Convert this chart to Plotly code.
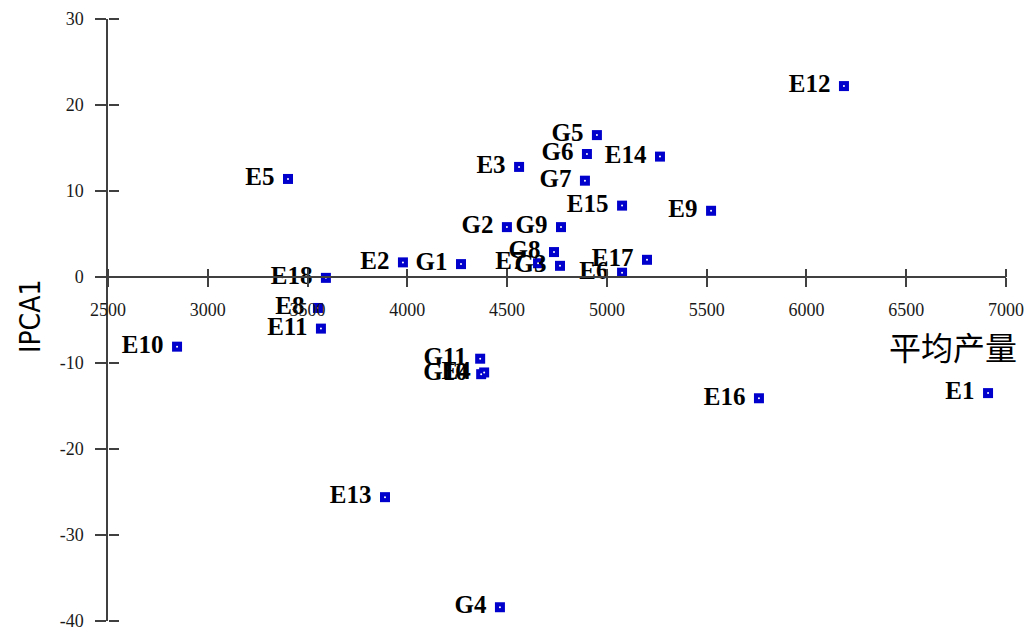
import plotly.graph_objects as go

names = ["E1", "E2", "E3", "E4", "E5", "E6", "E7", "E8", "E9", "E10", "E11", "E12",
         "E13", "E14", "E15", "E16", "E17", "E18",
         "G1", "G2", "G3", "G4", "G5", "G6", "G7", "G8", "G9", "G10", "G11"]
yield_mean = [6910, 3978, 4560, 4385, 3402, 5076, 4655, 3552, 5522, 2846, 3567, 6188,
              3888, 5266, 5076, 5762, 5201, 3592,
              4269, 4499, 4765, 4464, 4950, 4900, 4890, 4735, 4770, 4370, 4365]
ipca1 = [-13.5, 1.7, 12.8, -11.1, 11.4, 0.5, 1.6, -3.6, 7.7, -8.1, -6.0, 22.2,
         -25.6, 14.0, 8.3, -14.1, 2.0, -0.1,
         1.5, 5.8, 1.3, -38.4, 16.5, 14.3, 11.2, 2.9, 5.8, -11.3, -9.5]

x_ticks = [2500, 3000, 3500, 4000, 4500, 5000, 5500, 6000, 6500, 7000]
y_ticks = [-40, -30, -20, -10, 0, 10, 20, 30]
y_tick_labels = ["-40", "-30", "-20", "-10", "0", "10", "20", "30"]

AX = "#404040"
fig = go.Figure()
fig.add_trace(go.Scatter(
    x=yield_mean, y=ipca1, mode="markers+text", text=names,
    texttemplate="%{text}\u00a0",
    textposition="middle left",
    textfont=dict(family="Liberation Serif", size=25, color="black", weight="bold"),
    marker=dict(symbol="square", size=10, color="#0000CC", line=dict(width=0)),
    cliponaxis=False, showlegend=False))
fig.add_trace(go.Scatter(
    x=yield_mean, y=ipca1, mode="markers",
    marker=dict(symbol="circle", size=2, color="white", line=dict(width=0)),
    cliponaxis=False, showlegend=False, hoverinfo="skip"))
# helper trace so the opposite-side tick axes are drawn
fig.add_trace(go.Scatter(x=[2500], y=[-40], xaxis="x2", yaxis="y2", mode="markers",
                         marker=dict(opacity=0), showlegend=False, hoverinfo="skip"))

ypos = 40 / 70
fig.update_layout(
    width=1026, height=634,
    margin=dict(l=108, r=20, t=19, b=13, autoexpand=False),
    paper_bgcolor="white", plot_bgcolor="white",
    xaxis=dict(range=[2500, 7000], tickvals=x_ticks, showgrid=False, zeroline=False,
               automargin=False,
               showline=True, linecolor=AX, linewidth=1.5,
               ticks="outside", ticklen=9, tickcolor=AX, tickwidth=1.5,
               anchor="free", position=ypos, ticklabelstandoff=8,
               tickfont=dict(family="Liberation Serif", size=18, color="#1a1a1a")),
    yaxis=dict(range=[-40, 30], tickvals=y_ticks, ticktext=y_tick_labels,
               showgrid=False, zeroline=False, automargin=False,
               showline=True, linecolor=AX, linewidth=1.5,
               ticks="outside", ticklen=11, tickcolor=AX, tickwidth=1.5,
               ticklabelstandoff=8,
               tickfont=dict(family="Liberation Serif", size=18, color="#1a1a1a")),
    xaxis2=dict(range=[2500, 7000], tickvals=x_ticks, showgrid=False, zeroline=False,
                automargin=False,
                overlaying="x", side="top", anchor="free", position=ypos,
                ticks="outside", ticklen=8, tickcolor=AX, tickwidth=1.5,
                showticklabels=False, showline=False),
    yaxis2=dict(range=[-40, 30], tickvals=y_ticks, showgrid=False, zeroline=False,
                automargin=False,
                overlaying="y", side="right", anchor="free", position=0,
                ticks="outside", ticklen=10, tickcolor=AX, tickwidth=1.5,
                showticklabels=False, showline=False),
    annotations=[
        dict(text="IPCA1", xref="paper", yref="paper", x=(30 - 108) / 898,
             y=(621 - 317) / 602,
             textangle=-90, showarrow=False, xanchor="center", yanchor="middle",
             font=dict(family="Liberation Sans Narrow, DejaVu Sans Condensed, Arial", size=28, color="black")),
        dict(text="平均产量", xref="paper", yref="paper", x=(953 - 108) / 898,
             y=(621 - 346) / 602, showarrow=False, xanchor="center", yanchor="middle",
             font=dict(family="Noto Sans CJK SC", size=32, color="black")),
    ],
)

fig.write_html("out.html", config={"displayModeBar": False},
               post_script="document.body.style.margin='0';")
